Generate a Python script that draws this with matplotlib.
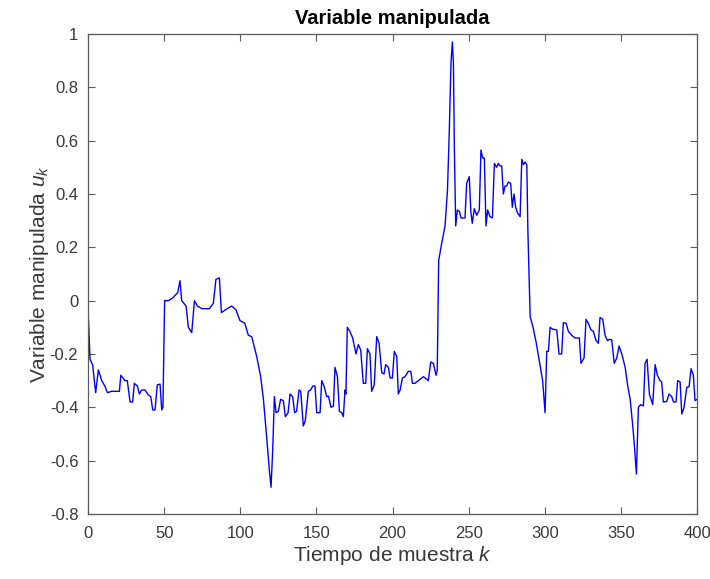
import matplotlib
matplotlib.use("Agg")
import matplotlib.pyplot as plt

plt.rcParams['font.family'] = ['Liberation Sans', 'DejaVu Sans']
plt.rcParams['mathtext.fontset'] = 'custom'
plt.rcParams['mathtext.it'] = 'Liberation Sans:italic'
plt.rcParams['mathtext.rm'] = 'Liberation Sans'

k = [0, 1.3, 3, 5, 6.8, 9, 11, 12.7, 15.5, 20.6, 21.5, 24.3, 25.8, 27.6, 29.3, 30.4, 32.4, 33.7,
     35.2, 37.4, 39.6, 41.2, 42.5, 44, 45.5, 47.3, 48.4, 49.2, 50.3, 52.8, 55.6, 57.2, 58.9, 60.4,
     61.5, 64.4, 65.9, 68.1, 69.9, 71.8, 74.7, 79.7, 82.3, 84, 86.3, 87.6, 90, 94.4, 97.2, 99.8,
     103, 105.3, 107.5, 110.8, 113.4, 115.2, 117.3, 119.1, 120.2, 121.3, 122.4, 123.5, 125, 126.5,
     128.3, 129.6, 131.4, 132.7, 134.4, 135.7, 137, 138.6, 139.7, 141.4, 142.7, 144.7, 146.2, 147.6,
     149.1, 150.2, 152.4, 153.5, 155, 156.8, 157.9, 159.6, 161.2, 162.2, 163.8, 165.1, 166.6, 167.7,
     168.8, 169.4, 170.3, 172, 173.8, 176, 177.5, 179.1, 180.8, 182.4, 183.5, 185.2, 186.3, 188,
     189.6, 191.2, 192.9, 194.4, 195.5, 197.3, 198.4, 199.9, 201.2, 202.8, 203.8, 205, 206.5, 208.2,
     210.4, 212, 213.1, 214.8, 217, 220.3, 223.5, 225.1, 226.8, 228.6, 229.4, 230.3, 232.3, 234.5,
     236.1, 237.3, 238.4, 239.3, 240, 240.6, 241.5, 242.6, 243.9, 245, 247.6, 248.7, 250.4, 251.5,
     252.4, 253.7, 255.3, 257, 258.1, 259.2, 260.3, 261.4, 262.5, 264, 265.6, 266.9, 268.4, 269.5,
     270.6, 271.7, 272.8, 273.9, 275, 276.1, 277.6, 278.7, 279.8, 280.9, 282, 283.8, 284.9, 286,
     287.1, 288.2, 288.9, 290.4, 292.3, 294.3, 296.5, 298.6, 300.2, 301.3, 302.4, 303.5, 305.2,
     307.9, 309.4, 311.1, 312.2, 314, 315.5, 317.7, 319.9, 322.7, 323.8, 325.8, 327.1, 328.6, 330.4,
     331.9, 333.7, 335.2, 336.3, 338.1, 339.6, 341.2, 342.5, 344, 345.6, 347.3, 348.8, 350.6, 352.8,
     354.5, 356.1, 357.8, 359.1, 360.2, 361.5, 363, 364.8, 365.9, 367.2, 368.7, 370.9, 372.5, 374,
     375.7, 376.8, 377.9, 380.1, 381.6, 383.4, 384.5, 386.2, 387.3, 388.9, 390, 391.5, 393.3, 394.8,
     396.1, 397.6, 398.7, 400]

u = [-0.03, -0.22, -0.24, -0.345, -0.26, -0.30, -0.32, -0.345, -0.34, -0.34, -0.28, -0.30, -0.30,
     -0.38, -0.38, -0.31, -0.32, -0.35, -0.335, -0.335, -0.354, -0.36, -0.41, -0.41, -0.316, -0.313,
     -0.41, -0.40, 0.0, 0.0, 0.01, 0.02, 0.03, 0.075, 0.0, -0.02, -0.10, -0.12, 0.0, -0.02, -0.03,
     -0.03, -0.01, 0.08, 0.085, -0.045, -0.035, -0.02, -0.035, -0.075, -0.085, -0.13, -0.135, -0.21,
     -0.285, -0.37, -0.51, -0.635, -0.70, -0.56, -0.36, -0.42, -0.415, -0.37, -0.375, -0.435, -0.42,
     -0.35, -0.36, -0.42, -0.415, -0.335, -0.34, -0.47, -0.45, -0.34, -0.335, -0.32, -0.32, -0.42,
     -0.42, -0.30, -0.32, -0.36, -0.358, -0.40, -0.395, -0.25, -0.285, -0.415, -0.42, -0.435, -0.335,
     -0.35, -0.10, -0.115, -0.14, -0.20, -0.165, -0.185, -0.31, -0.31, -0.18, -0.20, -0.34, -0.316,
     -0.135, -0.16, -0.27, -0.275, -0.24, -0.25, -0.29, -0.29, -0.19, -0.21, -0.35, -0.335, -0.29,
     -0.285, -0.265, -0.265, -0.31, -0.31, -0.30, -0.285, -0.30, -0.23, -0.235, -0.28, -0.26, 0.15,
     0.215, 0.28, 0.415, 0.64, 0.89, 0.97, 0.89, 0.58, 0.28, 0.34, 0.335, 0.31, 0.31, 0.44, 0.465,
     0.33, 0.29, 0.345, 0.32, 0.34, 0.565, 0.535, 0.535, 0.28, 0.34, 0.315, 0.31, 0.515, 0.50, 0.515,
     0.505, 0.505, 0.40, 0.43, 0.43, 0.445, 0.44, 0.35, 0.40, 0.35, 0.33, 0.315, 0.53, 0.51, 0.52,
     0.51, 0.265, -0.06, -0.10, -0.155, -0.23, -0.30, -0.42, -0.19, -0.19, -0.10, -0.107, -0.11,
     -0.20, -0.20, -0.083, -0.085, -0.115, -0.13, -0.14, -0.14, -0.235, -0.215, -0.07, -0.085, -0.11,
     -0.115, -0.15, -0.16, -0.063, -0.07, -0.13, -0.15, -0.145, -0.147, -0.235, -0.215, -0.17, -0.20,
     -0.25, -0.32, -0.37, -0.47, -0.56, -0.65, -0.40, -0.39, -0.395, -0.235, -0.22, -0.35, -0.39,
     -0.24, -0.28, -0.30, -0.305, -0.38, -0.378, -0.35, -0.36, -0.38, -0.38, -0.30, -0.305, -0.425,
     -0.40, -0.325, -0.323, -0.255, -0.28, -0.375, -0.37]

xticks = [0, 50, 100, 150, 200, 250, 300, 350, 400]
yticks = [-0.8, -0.6, -0.4, -0.2, 0, 0.2, 0.4, 0.6, 0.8, 1]
yticklabels = ['-0.8', '-0.6', '-0.4', '-0.2', '0', '0.2', '0.4', '0.6', '0.8', '1']

fig = plt.figure(figsize=(7.1, 5.79), dpi=100)
ax = fig.add_axes([0.124, 0.1123, 0.8577, 0.829])
ax.plot(k, u, color=(0, 0, 1), linewidth=1.0)
ax.set_xlim(0, 400)
ax.set_ylim(-0.8, 1)
ax.set_xticks(xticks)
ax.set_yticks(yticks)
ax.set_yticklabels(yticklabels)
gray = '#383838'
for s in ax.spines.values():
    s.set_color('#5a5a5a')
    s.set_linewidth(0.9)
ax.tick_params(direction='in', top=True, right=True, length=5, width=0.8,
               colors='#5a5a5a', labelcolor=gray, labelsize=12)
ax.tick_params(axis='x', pad=9)
ax.tick_params(axis='y', pad=7)
ax.set_title('Variable manipulada', fontsize=14.5, fontweight='bold', color='black', pad=7)
ax.set_xlabel('Tiempo de muestra $k$', fontsize=15, color=gray, labelpad=2)
ax.set_ylabel('Variable manipulada $u_k$', fontsize=15, color=gray, labelpad=-1)
fig.savefig('out.png', dpi=100)
